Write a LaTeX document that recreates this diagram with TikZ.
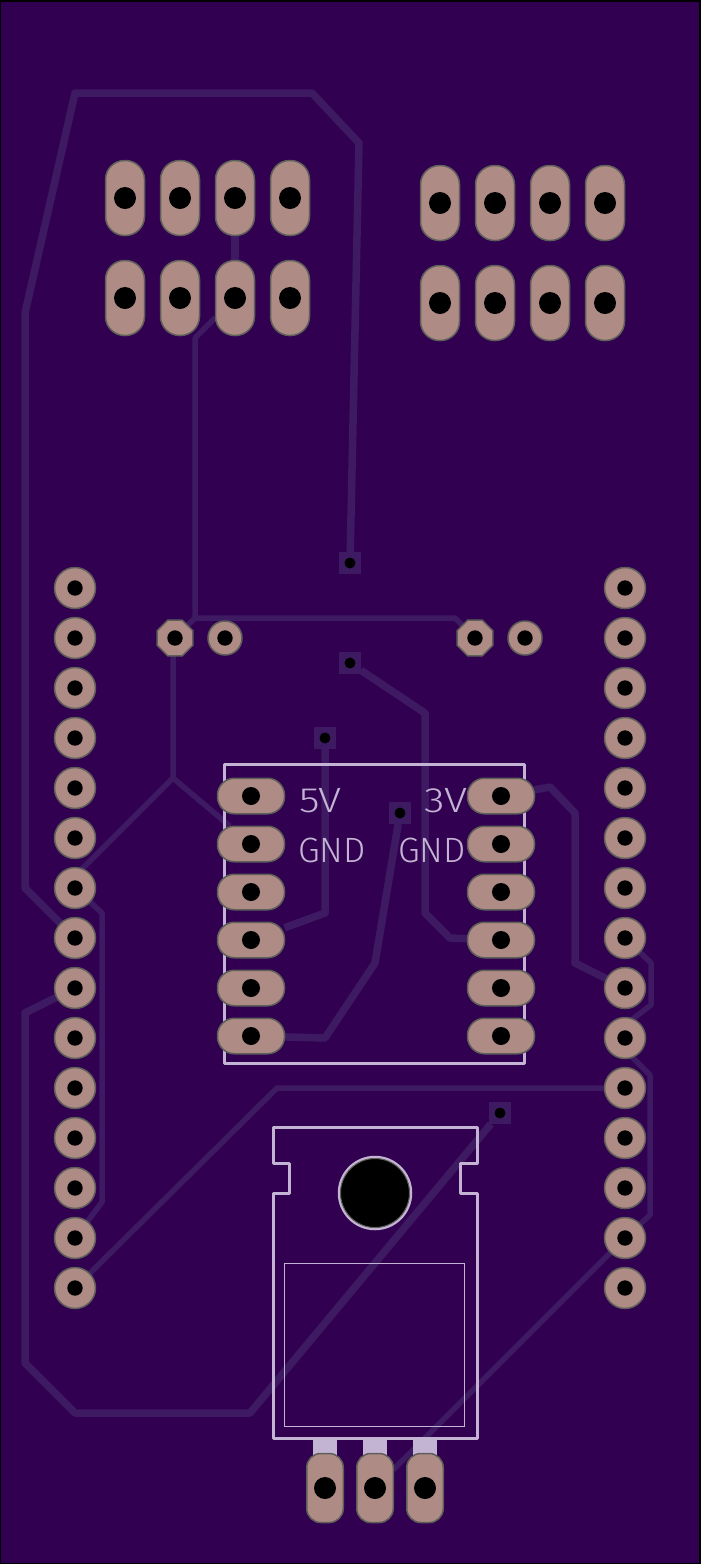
\documentclass[tikz,border=0pt]{standalone}
\usepackage{fontspec}
\newfontfamily\silkfont[UprightFont=* Light]{Fira Sans}
\usepackage{xcolor}
\usetikzlibrary{shapes.geometric,positioning,backgrounds}
\definecolor{board}{HTML}{310050}
\definecolor{copper}{HTML}{3E1A63}
\definecolor{padfill}{HTML}{AE8B84}
\definecolor{padedge}{HTML}{5F5F5A}
\definecolor{silk}{HTML}{C4B4D4}
\tikzset{
	holed/.style={path picture={\fill[black] (path picture bounding box.center) circle (#1);}},
	padbase/.style={draw=padedge,fill=padfill,line width=0.015cm,inner sep=0,outer sep=0},
	ringpad/.style={padbase,circle,minimum size=0.41cm,holed=0.077cm},
	smallring/.style={padbase,circle,minimum size=0.34cm,holed=0.077cm},
	octpad/.style={padbase,regular polygon,regular polygon sides=8,minimum size=0.385cm,holed=0.077cm},
	slotpad/.style={padbase,rectangle,rounded corners=0.19cm,minimum width=0.39cm,minimum height=0.75cm,holed=0.11cm},
	widepad/.style={padbase,rectangle,rounded corners=0.17cm,minimum width=0.67cm,minimum height=0.355cm,holed=0.09cm},
	legpad/.style={padbase,rectangle,rounded corners=0.14cm,minimum width=0.365cm,minimum height=0.69cm,holed=0.11cm},
	via/.style={rectangle,fill=copper,minimum size=0.22cm,inner sep=0,outer sep=0,holed=0.055cm},
	thicktrace/.style={draw=copper,line width=0.075cm,line join=round},
	thintrace/.style={draw=copper,line width=0.055cm,line join=round},
	silkline/.style={draw=silk,line width=0.03cm,line join=round},
	silktext/.style={text=silk,inner sep=0,font=\silkfont\fontsize{10}{10}\selectfont},
	widetext/.style={silktext,xscale=1.2,transform shape}
}
\begin{document}
\begin{tikzpicture}
	% outline of the picture
	\useasboundingbox (0,0) rectangle (7,-15.64);

	% silkscreen of the module
	\node[silkline,rectangle,minimum width=3cm,minimum height=2.99cm,inner sep=0] (module) at (3.745cm,-9.135cm) {};
	\node[widetext] (fivev) at (3.205cm,-8.005cm) {5V};
	\node[widetext] (threev) at (4.46cm,-8.005cm) {3V};
	\node[silktext] (gnda) at (3.32cm,-8.5cm) {GND};
	\node[silktext] (gndb) at (4.32cm,-8.5cm) {GND};

	% silkscreen of the regulator
	\draw[silkline] (2.73,-11.27) -- (4.77,-11.27) -- (4.77,-11.63) -- (4.6,-11.63) -- (4.6,-11.93) -- (4.77,-11.93) -- (4.77,-14.38) -- (2.73,-14.38) -- (2.73,-11.93) -- (2.89,-11.93) -- (2.89,-11.63) -- (2.73,-11.63) -- cycle;
	\node[draw=silk,line width=0.012cm,rectangle,minimum width=1.8cm,minimum height=1.63cm,inner sep=0] (heatsink) at (3.745cm,-13.45cm) {};
	\node[circle,draw=silk,fill=black,line width=0.025cm,minimum size=0.72cm,inner sep=0] (mount) at (3.75cm,-11.93cm) {};
	\node[circle,draw=padedge,line width=0.01cm,minimum size=0.69cm,inner sep=0] (mountedge) at (3.75cm,-11.93cm) {};
	\node[fill=silk,minimum width=0.24cm,minimum height=0.2cm,inner sep=0] (taba) at (3.25cm,-14.48cm) {};
	\node[fill=silk,minimum width=0.24cm,minimum height=0.2cm,inner sep=0] (tabb) at (3.75cm,-14.48cm) {};
	\node[fill=silk,minimum width=0.24cm,minimum height=0.2cm,inner sep=0] (tabc) at (4.25cm,-14.48cm) {};

	% left header
	\node[ringpad] (la) at (0.75cm,-5.88cm) {};
	\node[ringpad] (lb) [below=0.09cm of la] {};
	\node[ringpad] (lc) [below=0.09cm of lb] {};
	\node[ringpad] (ld) [below=0.09cm of lc] {};
	\node[ringpad] (le) [below=0.09cm of ld] {};
	\node[ringpad] (lf) [below=0.09cm of le] {};
	\node[ringpad] (lg) [below=0.09cm of lf] {};
	\node[ringpad] (lh) [below=0.09cm of lg] {};
	\node[ringpad] (li) [below=0.09cm of lh] {};
	\node[ringpad] (lj) [below=0.09cm of li] {};
	\node[ringpad] (lk) [below=0.09cm of lj] {};
	\node[ringpad] (ll) [below=0.09cm of lk] {};
	\node[ringpad] (lm) [below=0.09cm of ll] {};
	\node[ringpad] (ln) [below=0.09cm of lm] {};
	\node[ringpad] (lo) [below=0.09cm of ln] {};

	% right header
	\node[ringpad] (ra) at (6.25cm,-5.88cm) {};
	\node[ringpad] (rb) [below=0.09cm of ra] {};
	\node[ringpad] (rc) [below=0.09cm of rb] {};
	\node[ringpad] (rd) [below=0.09cm of rc] {};
	\node[ringpad] (re) [below=0.09cm of rd] {};
	\node[ringpad] (rf) [below=0.09cm of re] {};
	\node[ringpad] (rg) [below=0.09cm of rf] {};
	\node[ringpad] (rh) [below=0.09cm of rg] {};
	\node[ringpad] (ri) [below=0.09cm of rh] {};
	\node[ringpad] (rj) [below=0.09cm of ri] {};
	\node[ringpad] (rk) [below=0.09cm of rj] {};
	\node[ringpad] (rl) [below=0.09cm of rk] {};
	\node[ringpad] (rm) [below=0.09cm of rl] {};
	\node[ringpad] (rn) [below=0.09cm of rm] {};
	\node[ringpad] (ro) [below=0.09cm of rn] {};

	% connector blocks at the top
	\node[slotpad] (aa) at (1.25cm,-1.98cm) {};
	\node[slotpad] (ab) at (1.8cm,-1.98cm) {};
	\node[slotpad] (ac) at (2.35cm,-1.98cm) {};
	\node[slotpad] (ad) at (2.9cm,-1.98cm) {};
	\node[slotpad] (ae) [below=0.25cm of aa] {};
	\node[slotpad] (af) [below=0.25cm of ab] {};
	\node[slotpad] (ag) [below=0.25cm of ac] {};
	\node[slotpad] (ah) [below=0.25cm of ad] {};
	\node[slotpad] (ba) at (4.4cm,-2.03cm) {};
	\node[slotpad] (bb) at (4.95cm,-2.03cm) {};
	\node[slotpad] (bc) at (5.5cm,-2.03cm) {};
	\node[slotpad] (bd) at (6.05cm,-2.03cm) {};
	\node[slotpad] (be) [below=0.25cm of ba] {};
	\node[slotpad] (bf) [below=0.25cm of bb] {};
	\node[slotpad] (bg) [below=0.25cm of bc] {};
	\node[slotpad] (bh) [below=0.25cm of bd] {};

	% small pads
	\node[octpad] (oa) at (1.75cm,-6.38cm) {};
	\node[smallring] (sa) at (2.25cm,-6.38cm) {};
	\node[octpad] (ob) at (4.75cm,-6.38cm) {};
	\node[smallring] (sb) at (5.25cm,-6.38cm) {};

	% module pads
	\node[widepad] (ma) at (2.51cm,-7.96cm) {};
	\node[widepad] (mb) at (2.51cm,-8.44cm) {};
	\node[widepad] (mc) at (2.51cm,-8.92cm) {};
	\node[widepad] (md) at (2.51cm,-9.4cm) {};
	\node[widepad] (me) at (2.51cm,-9.88cm) {};
	\node[widepad] (mf) at (2.51cm,-10.36cm) {};
	\node[widepad] (na) at (5.01cm,-7.96cm) {};
	\node[widepad] (nb) at (5.01cm,-8.44cm) {};
	\node[widepad] (nc) at (5.01cm,-8.92cm) {};
	\node[widepad] (nd) at (5.01cm,-9.4cm) {};
	\node[widepad] (ne) at (5.01cm,-9.88cm) {};
	\node[widepad] (nf) at (5.01cm,-10.36cm) {};

	% regulator legs
	\node[legpad] (pa) at (3.25cm,-14.88cm) {};
	\node[legpad] (pb) at (3.75cm,-14.88cm) {};
	\node[legpad] (pc) at (4.25cm,-14.88cm) {};

	% vias
	\node[via] (va) at (3.5cm,-5.63cm) {};
	\node[via] (vb) at (3.5cm,-6.63cm) {};
	\node[via] (vc) at (3.25cm,-7.38cm) {};
	\node[via] (vd) at (4cm,-8.13cm) {};
	\node[via] (ve) at (5cm,-11.13cm) {};

	\begin{pgfonlayer}{background}
		% board
		\fill[board] (0,0) rectangle (7,-15.64);
		\draw[black,line width=0.03cm] (0,0) rectangle (7,-15.64);

		% thick traces
		\draw[thicktrace] (va) -- (3.59,-1.43) -- (3.12,-0.93) -- (0.75,-0.93) -- (0.25,-3.13) -- (0.25,-8.88) -- (lh);
		\draw[thicktrace] (ac) -- (ag);
		\draw[thicktrace] (li) -- (0.25,-10.13) -- (0.25,-13.63) -- (0.75,-14.13) -- (2.5,-14.13) -- (ve);
		\draw[thicktrace] (vc) -- (3.25,-9.13) -- (md);
		\draw[thicktrace] (vb) -- (4.25,-7.13) -- (4.25,-9.13) -- (4.5,-9.38) -- (nd);
		\draw[thicktrace] (vd) -- (3.75,-9.63) -- (3.25,-10.38) -- (mf);
		\draw[thicktrace] (na) -- (5.5,-7.87) -- (5.75,-8.13) -- (5.75,-9.63) -- (ri);

		% thin traces
		\draw[thintrace] (ag) -- (1.95,-3.38) -- (1.95,-6.18) -- (oa);
		\draw[thintrace] (1.95,-6.18) -- (4.55,-6.18) -- (ob);
		\draw[thintrace] (oa) -- (1.73,-6.55) -- (1.73,-7.78) -- (0.75,-8.76) -- (lg);
		\draw[thintrace] (1.73,-7.78) -- (mb);
		\draw[thintrace] (lg) -- (1.02,-9.13) -- (1.02,-12.02) -- (ln);
		\draw[thintrace] (lo) -- (2.77,-10.88) -- (rk);
		\draw[thintrace] (rh) -- (6.51,-9.63) -- (6.51,-10.05) -- (6.3,-10.21) -- (rj);
		\draw[thintrace] (rj) -- (6.27,-10.52) -- (6.5,-10.75) -- (6.5,-12.15) -- (rn);
		\draw[thintrace] (rn) -- (pb);
	\end{pgfonlayer}
\end{tikzpicture}
\end{document}
